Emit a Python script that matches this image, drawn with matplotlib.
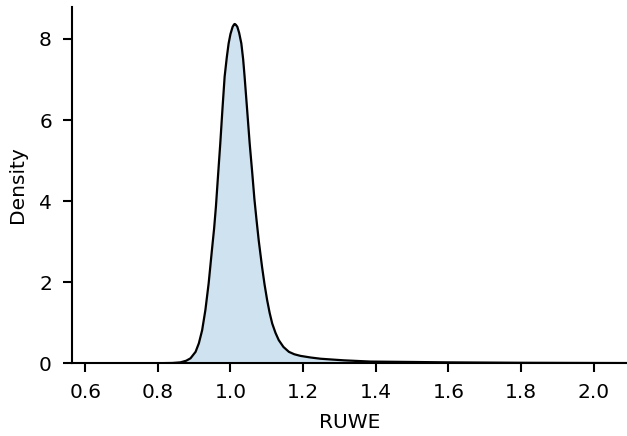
import matplotlib.pyplot as plt

# RUWE density curve
ruwe = [0.564, 0.70, 0.80, 0.84, 0.862, 0.878, 0.890, 0.904, 0.913, 0.922, 0.931,
        0.940, 0.949, 0.955, 0.960, 0.966, 0.972, 0.978, 0.984, 0.990, 0.995,
        1.000, 1.006, 1.010, 1.012, 1.015, 1.019, 1.024, 1.030, 1.035, 1.039,
        1.046, 1.053, 1.060, 1.066, 1.072, 1.078, 1.087, 1.094, 1.101, 1.108, 1.115,
        1.124, 1.133, 1.146, 1.161, 1.176, 1.193, 1.221, 1.248, 1.280, 1.313,
        1.386, 1.50, 1.60, 1.80, 2.00, 2.092]
density = [0.0, 0.0, 0.0, 0.005, 0.02, 0.06, 0.12, 0.28, 0.49, 0.81, 1.31,
           1.97, 2.79, 3.32, 3.86, 4.65, 5.42, 6.27, 7.07, 7.55, 7.89,
           8.12, 8.30, 8.36, 8.37, 8.35, 8.30, 8.15, 7.89, 7.50, 7.07,
           6.25, 5.42, 4.70, 4.05, 3.52, 3.02, 2.38, 1.94, 1.56, 1.24, 0.98,
           0.75, 0.57, 0.40, 0.28, 0.22, 0.18, 0.14, 0.11, 0.09, 0.07,
           0.04, 0.03, 0.02, 0.01, 0.005, 0.003]

plt.rcParams['font.size'] = 14.5

fig = plt.figure(figsize=(6.27, 4.36), dpi=100)
ax = fig.add_axes([0.115, 0.167, 0.885, 0.817])

ax.fill_between(ruwe, density, color='#1f77b4', alpha=0.21, linewidth=0)
ax.plot(ruwe, density, color='black', linewidth=1.6, solid_joinstyle='round')

ax.set_xlim(0.564, 2.092)
ax.set_ylim(0, 8.79)
ax.set_xticks([0.6, 0.8, 1.0, 1.2, 1.4, 1.6, 1.8, 2.0])
ax.set_yticks([0, 2, 4, 6, 8])
ax.set_xlabel('RUWE', labelpad=8)
ax.set_ylabel('Density', labelpad=9)
ax.spines['top'].set_visible(False)
ax.spines['right'].set_visible(False)
ax.spines['left'].set_linewidth(1.5)
ax.spines['bottom'].set_linewidth(1.5)
ax.tick_params(width=1.5, length=6.5, pad=8)

fig.savefig('out.png', dpi=100)
